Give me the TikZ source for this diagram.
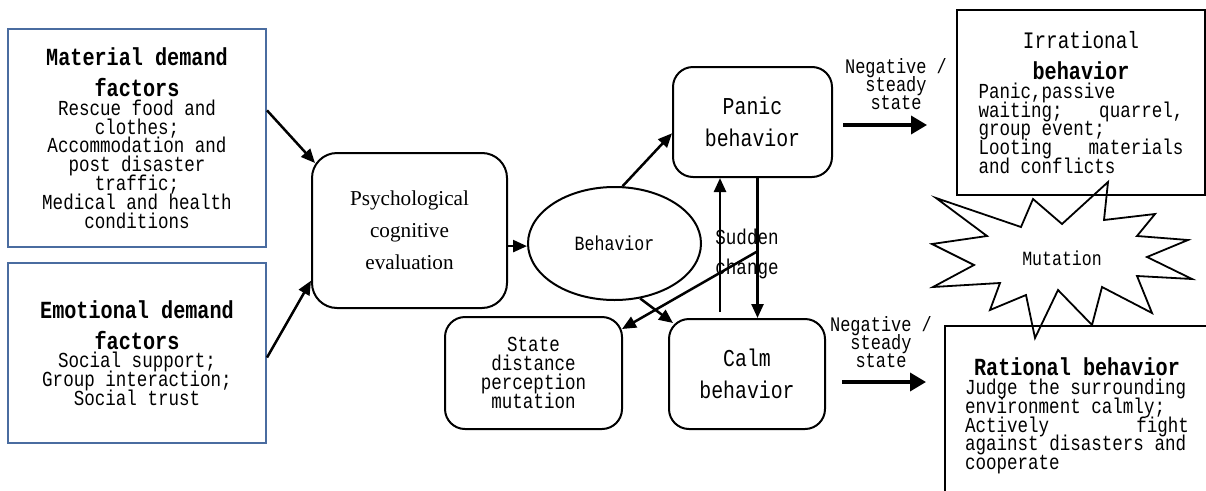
\documentclass[tikz,border=0pt]{standalone}
\usepackage{fontspec}
\usetikzlibrary{arrows.meta,shapes.geometric}
\newfontfamily\monof[FakeStretch=0.82]{Liberation Mono}
\newfontfamily\serf{Liberation Serif}
\newcommand\bodyfont{\monof\fontsize{21.4}{18.8}\selectfont\lineskiplimit=-20pt\spaceskip=10.55pt\relax\xspaceskip=10.55pt\relax}
\newcommand\headfont{\monof\bfseries\fontsize{24.6}{31}\selectfont\lineskiplimit=-20pt\spaceskip=12.1pt\relax\xspaceskip=12.1pt\relax}
\newcommand\irrhead{\monof\fontsize{23.6}{31}\selectfont\lineskiplimit=-20pt\spaceskip=11.6pt\relax}
\newcommand\pcfont{\monof\fontsize{24.2}{32}\selectfont}
\newcommand\behfont{\monof\fontsize{20.2}{22}\selectfont}
\newcommand\negfont{\monof\fontsize{20.7}{18}\selectfont\lineskiplimit=-20pt}
\newcommand\suddenfont{\monof\fontsize{21.4}{30}\selectfont}
\newcommand\psychfont{\serf\fontsize{21.2}{32}\selectfont}
\definecolor{boxblue}{RGB}{74,108,160}
\begin{document}
\begin{tikzpicture}[x=1pt,y=-1pt,
  bluebox/.style={draw=boxblue, line width=2pt, rectangle, inner sep=0pt, align=center},
  roundbox/.style={draw, line width=2pt, rectangle, rounded corners=20pt, inner sep=0pt, align=center},
  plainbox/.style={draw, line width=2pt, rectangle, inner sep=0pt},
  arr/.style={line width=2.5pt, -{Triangle[length=14pt,width=12pt]}},
  bigarr/.style={line width=3.5pt, -{Triangle[length=16pt,width=18pt]}},
  lbl/.style={inner sep=0pt, align=center}]
\useasboundingbox (0,0) rectangle (1206,490);
\clip (0,0) rectangle (1206,490);

% left boxes
\node[bluebox, minimum width=258pt, minimum height=218pt, text width=240pt] (mat) at (137,138)
  {{\headfont Material demand\\factors\par}{\bodyfont Rescue food and\\clothes;\\Accommodation and\\post disaster\\traffic;\\Medical and health\\conditions\par}};
\node[bluebox, minimum width=258pt, minimum height=180pt, text width=240pt] (emo) at (137,353)
  {{\headfont Emotional demand\\factors\par}{\bodyfont Social support;\\Group interaction;\\Social trust\par}};

% centre
\node[roundbox, rounded corners=25pt, minimum width=195pt, minimum height=155pt, font=\psychfont] (psych) at (409.5,230.5)
  {Psychological\\cognitive\\evaluation};
\node[draw, ellipse, line width=2pt, minimum width=173pt, minimum height=113pt, inner sep=0pt, font=\behfont] (beh) at (614.5,243.5) {Behavior};
\node[roundbox, minimum width=159pt, minimum height=110pt, font=\pcfont] (panic) at (752.5,122) {Panic\\behavior};
\node[roundbox, minimum width=156pt, minimum height=110pt, font=\pcfont] (calm) at (747,374) {Calm\\behavior};
\node[roundbox, minimum width=177pt, minimum height=112pt, font=\bodyfont] (state) at (533.5,373)
  {State\\distance\\perception\\mutation};

% right boxes
\node[plainbox, minimum width=248pt, minimum height=185pt, text width=205pt, align=left] (irr) at (1081,102.5)
  {{\centering\irrhead Irrational\\{\headfont behavior}\par}{\bodyfont Panic,passive\\waiting;\hfill quarrel,\\group event;\\Looting\hfill materials\\and conflicts\par}};
\node[plainbox, minimum width=264pt, minimum height=180pt, text width=224pt, align=left] (rat) at (1077,416)
  {{\centering\headfont Rational behavior\par}{\bodyfont Judge the surrounding\\environment calmly;\\Actively\hfill fight\\against disasters and\\cooperate\par}};

% mutation star
\draw[line width=1.8pt, line join=miter]
  (936,198) -- (1021,227) -- (1033,199) -- (1062,224) -- (1108,182) -- (1104,220)
  -- (1155,214) -- (1137,236) -- (1188,240) -- (1147,257) -- (1192,279) -- (1137,276)
  -- (1152,313) -- (1102,287) -- (1092,325) -- (1058,290) -- (1035,338) -- (1026,295)
  -- (990,310) -- (1000,283) -- (933,287) -- (974,265) -- (932,244) -- (987,236) -- cycle;
\node[lbl, font=\behfont] (mut) at (1062,258) {Mutation};

% labels
\node[lbl, font=\suddenfont] (sudden) at (747,253.5) {Sudden\\change};
\node[lbl, font=\negfont] (neg1) at (896,84.5) {Negative /\\steady\\state};
\node[lbl, font=\negfont] (neg2) at (881,342) {Negative /\\steady\\state};

% connectors
\coordinate (upbase) at (720,312);
\coordinate (scstart) at (758,251);
\draw[arr] (mat.12) -- ([shift={(4,11)}]psych.north west);
\draw[arr] (emo.-2) -- (psych.207);
\draw[arr] (psych.-9.6) -- (psych.-9.6 -| beh.west);
\draw[arr] (beh.82) -- (panic.188.6);
\draw[arr] (beh.-65) -- ([shift={(5,5)}]calm.north west);
\draw[arr] (upbase) -- (upbase |- panic.south);
\draw[arr] ([xshift=5pt]panic.south) -- ([xshift=5pt]panic.south |- calm.north);
\draw[arr] (scstart) -- ([shift={(-1,13)}]state.north east);
\draw[bigarr, shorten <=10pt, shorten >=29pt] ([yshift=-3pt]panic.east) -- ([yshift=-3pt]panic.east -| irr.west);
\draw[bigarr, shorten <=16pt, shorten >=18pt] ([yshift=-8pt]calm.east) -- ([yshift=-8pt]calm.east -| rat.west);
\end{tikzpicture}
\end{document}
